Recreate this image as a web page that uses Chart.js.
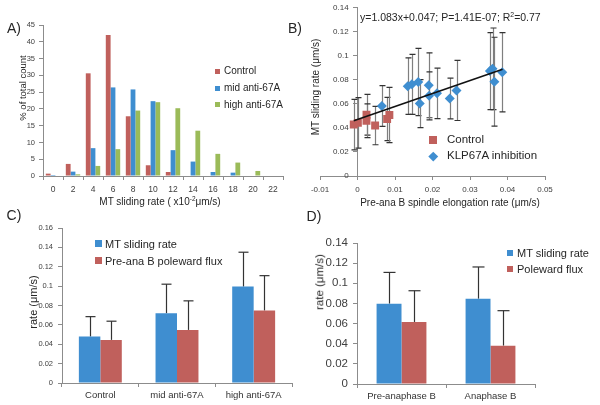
<!DOCTYPE html>
<html>
<head>
<meta charset="utf-8">
<script src="https://cdn.jsdelivr.net/npm/chart.js@4.4.1/dist/chart.umd.min.js"></script>
<style>
  body { margin: 0; background: #fff; }
  #fig { position: relative; width: 600px; height: 405px; overflow: hidden; font-family: 'Liberation Sans', Arial, sans-serif; color: #262626; }
  .panel { position: absolute; }
  .txt { position: absolute; white-space: nowrap; line-height: 1; }
  .key { position: absolute; }
  sup { font-size: 0.65em; vertical-align: 0.55em; line-height: 0; }
</style>
</head>
<body>
<div id="fig">
  <div class="panel" style="left:0;top:0;width:300px;height:215px"><canvas id="chartA"></canvas></div>
  <div class="panel" style="left:300px;top:0;width:300px;height:215px"><canvas id="chartB"></canvas></div>
  <div class="panel" style="left:0;top:210px;width:300px;height:195px"><canvas id="chartC"></canvas></div>
  <div class="panel" style="left:300px;top:210px;width:300px;height:195px"><canvas id="chartD"></canvas></div>
</div>
<script>
// A) histogram of sliding rates (% of total count per bin)
const binLabels = ['0', '2', '4', '6', '8', '10', '12', '14', '16', '18', '20', '22'];
const histSeries = ['Control', 'mid anti-67A', 'high anti-67A'];
const controlPct = [0.7, 3.6, 30.6, 42.0, 17.8, 3.2, 1.2, 0, 0, 0, 0, 0];
const midPct = [0.3, 1.3, 8.3, 26.4, 25.8, 22.3, 7.7, 4.3, 1.2, 1.0, 0, 0];
const highPct = [0, 0.5, 3.0, 8.0, 19.5, 22.0, 20.2, 13.5, 6.6, 4.0, 1.5, 0];

// B) sliding rate vs spindle elongation rate
const scatterSeries = ['Control', 'KLP67A inhibition'];
const ctrlX = [-0.0010, 0.0001, 0.0024, 0.0024, 0.0047, 0.0079, 0.0085];
const ctrlY = [0.0428, 0.0442, 0.0510, 0.0460, 0.0420, 0.0475, 0.0508];
const ctrlErr = [0.021, 0.021, 0.017, 0.014, 0.016, 0.018, 0.023];
const klpX = [0.0065, 0.0134, 0.0145, 0.0162, 0.0166, 0.0190, 0.0191, 0.0212, 0.0246, 0.0264, 0.0353, 0.0360, 0.0365, 0.0386];
const klpY = [0.0583, 0.0748, 0.0763, 0.0783, 0.0603, 0.0755, 0.0667, 0.0688, 0.0645, 0.0712, 0.0873, 0.0892, 0.0785, 0.0863];
const klpErr = [0.017, 0.0235, 0.025, 0.028, 0.020, 0.027, 0.020, 0.021, 0.017, 0.025, 0.032, 0.034, 0.037, 0.033];
const fitX = [-0.0010, 0.0387];
const fitY = [0.0459, 0.0889];
const fitText = 'y=1.083x+0.047; P=1.41E-07; R<sup>2</sup>=0.77';

// C) rates per condition
const groupsC = ['Control', 'mid anti-67A', 'high anti-67A'];
const seriesC = ['MT sliding rate', 'Pre-ana B poleward flux'];
const slideC = [0.048, 0.072, 0.0995];
const slideErrC = [0.0205, 0.030, 0.0355];
const fluxC = [0.0445, 0.0548, 0.0748];
const fluxErrC = [0.0193, 0.030, 0.036];

// D) rates per phase
const groupsD = ['Pre-anaphase B', 'Anaphase B'];
const seriesD = ['MT sliding rate', 'Poleward flux'];
const slideD = [0.0798, 0.0847];
const slideErrD = [0.031, 0.0315];
const fluxD = [0.0616, 0.0381];
const fluxErrD = [0.031, 0.0347];

const RED = '#C0605C', BLUE = '#3F8ED0', GREEN = '#9BBB59';
const AXIS = '#8C8C8C';

Chart.defaults.font.family = "'Liberation Sans', Arial, sans-serif";
Chart.defaults.color = '#404040';
Chart.defaults.animation = false;
Chart.defaults.plugins.legend.display = false;
Chart.defaults.plugins.tooltip.enabled = false;

// draws the error whiskers stored in dataset.errs
const errorBars = {
  id: 'errorBars',
  beforeDatasetsDraw(chart) {
    const ctx = chart.ctx;
    const yScale = chart.scales.y;
    chart.data.datasets.forEach((ds, i) => {
      if (!ds.errs) return;
      const meta = chart.getDatasetMeta(i);
      meta.data.forEach((el, j) => {
        const v = typeof ds.data[j] === 'object' ? ds.data[j].y : ds.data[j];
        const top = yScale.getPixelForValue(v + ds.errs[j]);
        const bot = ds.errUpOnly ? yScale.getPixelForValue(v) : yScale.getPixelForValue(v - ds.errs[j]);
        const x = Math.round(el.x) + 0.5;
        ctx.save();
        ctx.lineWidth = 1.2;
        ctx.strokeStyle = ds.errColor;
        ctx.beginPath();
        ctx.moveTo(x, top);
        ctx.lineTo(x, bot);
        ctx.stroke();
        ctx.strokeStyle = ds.capColor;
        ctx.beginPath();
        ctx.moveTo(x - ds.capW, top);
        ctx.lineTo(x + ds.capW, top);
        if (!ds.errUpOnly) {
          ctx.moveTo(x - ds.capW, bot);
          ctx.lineTo(x + ds.capW, bot);
        }
        ctx.stroke();
        ctx.restore();
      });
    });
  }
};

const fmt = v => String(+Number(v).toFixed(3));

function axisGrid() {
  return { display: true, drawOnChartArea: false, tickLength: 4, color: AXIS };
}

// ---- A ----
new Chart(document.getElementById('chartA'), {
  type: 'bar',
  data: {
    labels: binLabels,
    datasets: [
      { label: histSeries[0], data: controlPct, backgroundColor: RED },
      { label: histSeries[1], data: midPct, backgroundColor: BLUE },
      { label: histSeries[2], data: highPct, backgroundColor: GREEN }
    ]
  },
  options: {
    responsive: true,
    maintainAspectRatio: false,
    datasets: { bar: { barPercentage: 1, categoryPercentage: 0.72 } },
    layout: { padding: { top: 25, right: 17, left: 0, bottom: 0 } },
    scales: {
      x: {
        grid: axisGrid(), border: { color: AXIS },
        ticks: { font: { size: 8.5 }, padding: 5, maxRotation: 0 },
        afterFit: s => { s.height = 39; }
      },
      y: {
        min: 0, max: 45,
        grid: axisGrid(), border: { color: AXIS },
        ticks: { stepSize: 5, font: { size: 7.5 }, padding: 4 },
        afterFit: s => { s.width = 43; }
      }
    }
  }
});

// ---- B ----
const ctrlPts = ctrlX.map((x, i) => ({ x: x, y: ctrlY[i] }));
const klpPts = klpX.map((x, i) => ({ x: x, y: klpY[i] }));
const fitPts = fitX.map((x, i) => ({ x: x, y: fitY[i] }));

new Chart(document.getElementById('chartB'), {
  type: 'scatter',
  data: {
    datasets: [
      { label: 'fit', data: fitPts, showLine: true, borderColor: '#111', borderWidth: 1.6, pointRadius: 0, order: 0 },
      { label: scatterSeries[0], data: ctrlPts, pointStyle: 'rect', pointRadius: 5.6, backgroundColor: RED, borderWidth: 0, order: 1,
        errs: ctrlErr, errColor: '#7f7f7f', capColor: '#333', capW: 3 },
      { label: scatterSeries[1], data: klpPts, pointStyle: 'rectRot', pointRadius: 5, backgroundColor: BLUE, borderWidth: 0, order: 2,
        errs: klpErr, errColor: '#7f7f7f', capColor: '#333', capW: 3 }
    ]
  },
  options: {
    responsive: true,
    maintainAspectRatio: false,
    layout: { padding: { top: 6, right: 55, left: 20, bottom: 0 } },
    scales: {
      x: {
        min: -0.01, max: 0.05,
        grid: axisGrid(), border: { color: AXIS },
        ticks: { stepSize: 0.01, font: { size: 8 }, padding: 5, callback: fmt },
        afterFit: s => { s.height = 39; }
      },
      y: {
        position: { x: 0 },
        min: 0, max: 0.14,
        grid: axisGrid(), border: { color: AXIS },
        // axis sits at x = 0, labels are right-aligned on it: pad them off the line
        ticks: { stepSize: 0.02, font: { size: 8 }, callback: v => fmt(v) + '    ' }
      }
    }
  },
  plugins: [errorBars]
});

// ---- C and D ----
function rateChart(id, groups, names, a, aErr, b, bErr, opt) {
  return new Chart(document.getElementById(id), {
    type: 'bar',
    data: {
      labels: groups,
      datasets: [
        { label: names[0], data: a, backgroundColor: BLUE, errs: aErr, errUpOnly: true, errColor: '#333', capColor: '#333', capW: opt.capW },
        { label: names[1], data: b, backgroundColor: RED, errs: bErr, errUpOnly: true, errColor: '#333', capColor: '#333', capW: opt.capW }
      ]
    },
    options: {
      responsive: true,
      maintainAspectRatio: false,
      datasets: { bar: { barPercentage: 1, categoryPercentage: 0.56 } },
      layout: { padding: opt.padding },
      scales: {
        x: {
          grid: axisGrid(), border: { color: AXIS },
          ticks: { font: { size: 9.5 }, padding: 3, maxRotation: 0, color: '#333' },
          afterFit: s => { s.height = opt.xh; }
        },
        y: {
          min: 0, max: opt.max,
          grid: axisGrid(), border: { color: AXIS },
          ticks: { stepSize: 0.02, font: { size: opt.ySize }, padding: 5, callback: fmt },
          afterFit: s => { s.width = opt.yw; }
        }
      }
    },
    plugins: [errorBars]
  });
}

rateChart('chartC', groupsC, seriesC, slideC, slideErrC, fluxC, fluxErrC,
  { padding: { top: 18, right: 8, left: 0, bottom: 0 }, xh: 22, yw: 62, max: 0.16, ySize: 7.5, capW: 5 });
rateChart('chartD', groupsD, seriesD, slideD, slideErrD, fluxD, fluxErrD,
  { padding: { top: 33, right: 65, left: 0, bottom: 0 }, xh: 21, yw: 57, max: 0.14, ySize: 11.5, capW: 6 });

// ---- text and keys ----
const fig = document.getElementById('fig');
function text(html, x, y, size, how) {
  const d = document.createElement('div');
  d.className = 'txt';
  d.innerHTML = html;
  d.style.fontSize = size + 'px';
  d.style.left = x + 'px';
  d.style.top = y + 'px';
  if (how === 'rot') d.style.transform = 'translate(-50%,-50%) rotate(-90deg)';
  else if (how === 'left') d.style.transform = 'translate(0,-50%)';
  else d.style.transform = 'translate(-50%,-50%)';
  fig.appendChild(d);
}
function key(color, x, y, size, diamond) {
  const d = document.createElement('div');
  d.className = 'key';
  d.style.background = color;
  d.style.width = size + 'px';
  d.style.height = size + 'px';
  d.style.left = (x - size / 2) + 'px';
  d.style.top = (y - size / 2) + 'px';
  if (diamond) d.style.transform = 'rotate(45deg)';
  fig.appendChild(d);
}

text('A)', 14, 28, 14);
text('B)', 295, 28, 14);
text('C)', 14, 215, 14);
text('D)', 314, 216, 14);

text('% of total count', 22.5, 88, 9.5, 'rot');
text('MT sliding rate ( x10<sup>-2</sup>&mu;m/s)', 160, 202, 10);
[RED, BLUE, GREEN].forEach((c, i) => {
  const y = [71, 88, 104.5][i];
  key(c, 217.5, y, 5);
  text(histSeries[i], 224, y, 10, 'left');
});

text('MT sliding rate (&mu;m/s)', 316, 87, 10, 'rot');
text('Pre-ana B spindle elongation rate (&mu;m/s)', 450, 203, 10);
text(fitText, 360, 17, 10.5, 'left');
key(RED, 433, 140, 8);
text(scatterSeries[0], 447, 140, 11.5, 'left');
key(BLUE, 433, 156, 6.5, true);
text(scatterSeries[1], 447, 156, 11.5, 'left');

text('rate (&mu;m/s)', 33, 302, 11, 'rot');
key(BLUE, 98.5, 243.5, 7);
text(seriesC[0], 105, 243.5, 11, 'left');
key(RED, 98.5, 260.5, 7);
text(seriesC[1], 105, 260.5, 11, 'left');

text('rate (&mu;m/s)', 320, 282, 11.5, 'rot');
key(BLUE, 510, 252.5, 6);
text(seriesD[0], 517, 252.5, 11, 'left');
key(RED, 510, 269, 6);
text(seriesD[1], 517, 269, 11, 'left');
</script>
</body>
</html>
